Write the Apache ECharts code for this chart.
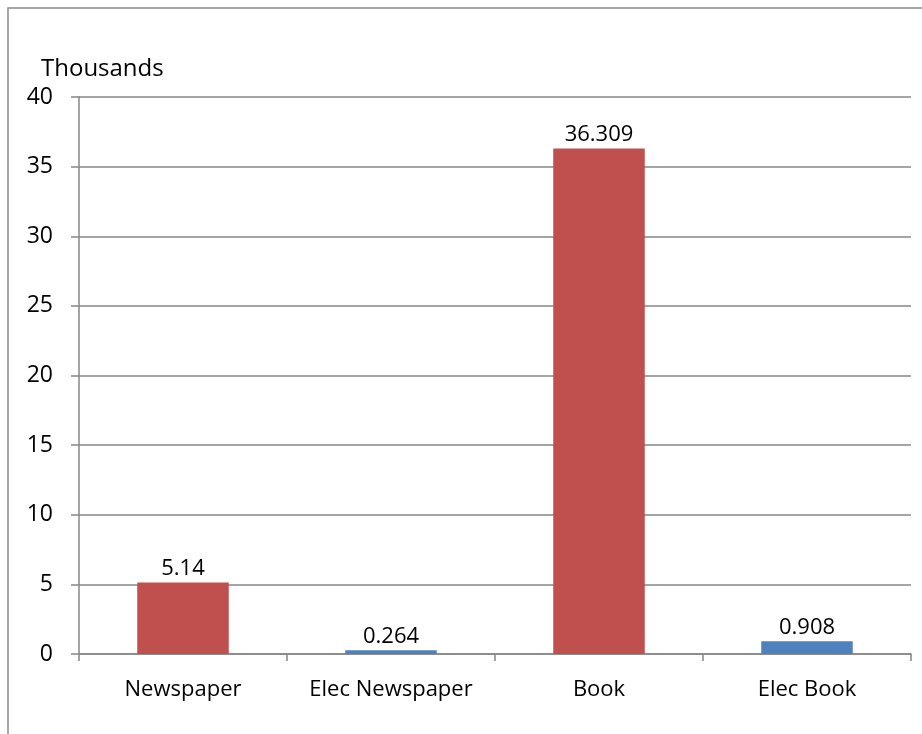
<!DOCTYPE html>
<html><head><meta charset="utf-8">
<script src="https://cdn.jsdelivr.net/npm/echarts@6/dist/echarts.min.js"></script>
<style>html,body{margin:0;padding:0;background:#fff}#c{width:922px;height:734px}</style>
</head><body><div id="c"></div>
<script>
const categories = ['Newspaper', 'Elec Newspaper', 'Book', 'Elec Book'];
const values = [5.14, 0.264, 36.309, 0.908];
const barColors = ['#C0504D', '#4F81BD', '#C0504D', '#4F81BD'];
const yTicks = [0, 5, 10, 15, 20, 25, 30, 35, 40];
const font = "'Open Sans', 'Noto Sans', sans-serif";
const chart = echarts.init(document.getElementById('c'));
chart.setOption({
  animation: false,
  grid: { left: 79, top: 97, right: 11, bottom: 80, containLabel: false },
  graphic: [
    { type: 'rect', shape: { x: 8, y: 8, width: 1200, height: 1200 }, style: { fill: 'none', stroke: '#8a8a8a', lineWidth: 1.5 }, silent: true },
    { type: 'text', left: 41, top: 57, style: { text: 'Thousands', font: "24px 'Open Sans', 'Noto Sans', sans-serif", fill: '#000' } }
  ],
  xAxis: {
    type: 'category', data: categories,
    axisLine: { lineStyle: { color: '#878787', width: 1.5 } },
    axisTick: { show: true, length: 7, interval: 0, alignWithLabel: false, lineStyle: { color: '#878787', width: 1.5 } },
    axisLabel: { color: '#000', fontSize: 22, fontFamily: font, margin: 25, interval: 0, hideOverlap: false }
  },
  yAxis: {
    type: 'value', min: 0, max: 40, interval: 5,
    axisLine: { show: true, lineStyle: { color: '#878787', width: 1.5 } },
    axisTick: { show: true, length: 8, lineStyle: { color: '#878787', width: 1.5 } },
    axisLabel: { color: '#000', fontSize: 23, fontFamily: font, margin: 26, formatter: v => yTicks.includes(v) ? String(v) : '' },
    splitLine: { lineStyle: { color: '#878787', width: 1.5 } }
  },
  series: [{
    type: 'bar', barWidth: '44%',
    data: values.map((v, i) => ({ value: v, itemStyle: { color: barColors[i] } })),
    label: { show: true, position: 'top', distance: 3, color: '#000', fontSize: 22, fontFamily: font, formatter: p => String(p.value) }
  }]
});
</script></body></html>
